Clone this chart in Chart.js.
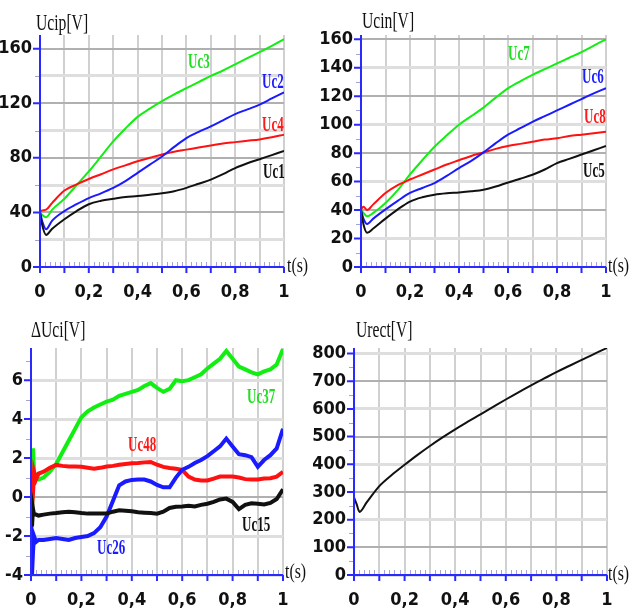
<!DOCTYPE html>
<html><head><meta charset="utf-8">
<script src="https://cdn.jsdelivr.net/npm/chart.js@4.4.1/dist/chart.umd.min.js"></script>
<style>
html,body{margin:0;padding:0;background:#fff;width:630px;height:610px;overflow:hidden;position:relative;}
canvas{position:absolute;}
.t{position:absolute;font-family:'Liberation Serif','DejaVu Serif',serif;white-space:nowrap;transform-origin:0 0;line-height:1;color:#111;}
.ttl{font-size:23px;transform:scaleX(0.68);}
.ax{font-size:22px;transform:scaleX(0.72);}
.lb{font-size:20px;font-weight:bold;transform:scaleX(0.65);}
</style></head><body>
<canvas id="c1" width="315" height="300" style="left:0;top:0"></canvas>
<canvas id="c2" width="315" height="300" style="left:315px;top:0"></canvas>
<canvas id="c3" width="315" height="310" style="left:0;top:300px"></canvas>
<canvas id="c4" width="330" height="310" style="left:300px;top:300px"></canvas>

<div class="t ttl" style="left:36px;top:11px">Ucip[V]</div>
<div class="t ttl" style="left:362px;top:9px">Ucin[V]</div>
<div class="t ttl" style="left:31px;top:318px">ΔUci[V]</div>
<div class="t ttl" style="left:356px;top:318px">Urect[V]</div>

<div class="t ax" style="left:287px;top:254px">t(s)</div>
<div class="t ax" style="left:608px;top:254px">t(s)</div>
<div class="t ax" style="left:285px;top:560px">t(s)</div>
<div class="t ax" style="left:608px;top:562px">t(s)</div>

<div class="t lb" style="left:188px;top:51px;color:#22dd22">Uc3</div>
<div class="t lb" style="left:262px;top:71px;color:#1a1aff">Uc2</div>
<div class="t lb" style="left:262px;top:114px;color:#ff1a1a">Uc4</div>
<div class="t lb" style="left:263px;top:161px;color:#111">Uc1</div>

<div class="t lb" style="left:508px;top:43px;color:#22dd22">Uc7</div>
<div class="t lb" style="left:582px;top:66px;color:#1a1aff">Uc6</div>
<div class="t lb" style="left:584px;top:106px;color:#ff1a1a">Uc8</div>
<div class="t lb" style="left:583px;top:160px;color:#111">Uc5</div>

<div class="t lb" style="left:247px;top:386px;color:#22dd22">Uc37</div>
<div class="t lb" style="left:128px;top:434px;color:#ff1a1a">Uc48</div>
<div class="t lb" style="left:97px;top:537px;color:#1a1aff">Uc26</div>
<div class="t lb" style="left:242px;top:514px;color:#111">Uc15</div>

<script>
// ---------- data ----------
const tTop = [0, 0.01, 0.025, 0.05, 0.1, 0.15, 0.2, 0.25, 0.3, 0.35, 0.4, 0.45, 0.5, 0.55, 0.6, 0.65, 0.7, 0.75, 0.8, 0.85, 0.9, 0.95, 1];
const uc1 = [40, 30, 23.5, 28, 35, 41, 46, 48.5, 50, 51.3, 52, 53, 54, 55.5, 58, 61, 64, 68, 72.5, 76, 79, 82, 85];
const uc2 = [40, 33, 27.7, 34, 41, 46, 50.5, 54, 58, 63, 69, 75, 81, 88, 94.5, 99, 103, 107.5, 112, 115.5, 119, 123.5, 128];
const uc3 = [40, 38, 36.5, 42, 50, 60, 70, 81, 92, 101.5, 110, 116, 121.5, 126.5, 131, 135.5, 140, 144, 148.5, 153, 157.5, 162, 167];
const uc4 = [40.5, 41.5, 42, 47, 56, 60.5, 64.5, 68, 71.5, 74.5, 77.5, 80, 82.5, 84.5, 86, 87.5, 89, 90.5, 91.5, 92.5, 93.5, 95, 97];

const uc5 = [40, 30, 24, 27, 34, 40.5, 46, 49, 50.8, 51.8, 52.4, 53.2, 54.3, 56.5, 59.4, 62, 64.8, 68.5, 73, 76, 79, 82, 85];
const uc6 = [40, 34, 30.2, 34, 40.5, 46.5, 52, 55.5, 59, 64, 69.5, 74.5, 80.5, 87, 93, 97.5, 102, 106, 110, 114, 118, 122, 125.6];
const uc7 = [40, 38, 35.6, 38, 45, 54, 65, 75, 84.5, 92.5, 100, 106, 112, 119, 125.5, 130.5, 135, 139, 143, 147, 151, 155.5, 160];
const uc8 = [40.5, 42.3, 40, 44, 52, 57.5, 61.5, 65, 68.5, 72, 75, 78, 80.5, 83, 85, 86.5, 88, 89.5, 90.5, 92, 93, 94, 95];

const tDiff = [0, 0.004, 0.008, 0.012, 0.02, 0.03, 0.05, 0.075, 0.1, 0.125, 0.15, 0.175, 0.2, 0.225, 0.25, 0.275, 0.3, 0.325, 0.35, 0.375, 0.4, 0.425, 0.45, 0.475, 0.5, 0.525, 0.55, 0.575, 0.6, 0.625, 0.65, 0.675, 0.7, 0.725, 0.75, 0.775, 0.8, 0.825, 0.85, 0.875, 0.9, 0.925, 0.95, 0.975, 1];
const uc37 = [0, -1.2, 2.5, 1.3, 1.0, 0.9, 1.0, 1.3, 1.7, 2.3, 2.9, 3.5, 4.1, 4.4, 4.6, 4.75, 4.9, 5.0, 5.2, 5.3, 5.4, 5.5, 5.7, 5.85, 5.6, 5.4, 5.55, 6.0, 5.95, 6.0, 6.15, 6.3, 6.6, 6.85, 7.1, 7.5, 7.1, 6.7, 6.55, 6.4, 6.3, 6.45, 6.55, 6.8, 7.6];
const uc48 = [0, -0.5, 0.2, 1.3, 0.9, 1.2, 1.3, 1.5, 1.65, 1.6, 1.57, 1.57, 1.55, 1.5, 1.45, 1.5, 1.57, 1.6, 1.66, 1.7, 1.74, 1.75, 1.78, 1.8, 1.66, 1.55, 1.49, 1.45, 1.4, 1.05, 0.9, 0.85, 0.85, 0.95, 1.05, 1.05, 1.05, 1.0, 0.92, 0.9, 0.9, 0.95, 0.97, 1.05, 1.3];
const uc26 = [0, -4, -2.8, -2.0, -2.3, -2.2, -2.2, -2.15, -2.1, -2.15, -2.2, -2.1, -2.05, -2.0, -1.85, -1.55, -1.0, -0.2, 0.6, 0.8, 0.88, 0.9, 0.9, 0.8, 0.62, 0.5, 0.5, 1.0, 1.4, 1.55, 1.75, 1.9, 2.1, 2.35, 2.6, 3.0, 2.6, 2.2, 2.15, 2.05, 1.55, 1.9, 2.15, 2.5, 3.5];
const uc15 = [0, -1.5, -0.6, -0.9, -0.9, -0.95, -0.9, -0.85, -0.82, -0.78, -0.75, -0.78, -0.82, -0.85, -0.85, -0.85, -0.85, -0.75, -0.68, -0.7, -0.73, -0.78, -0.8, -0.82, -0.85, -0.75, -0.56, -0.5, -0.48, -0.45, -0.48, -0.4, -0.34, -0.25, -0.12, -0.08, -0.25, -0.62, -0.4, -0.32, -0.34, -0.38, -0.3, -0.1, 0.4];

const tRect = [0, 0.01, 0.022, 0.05, 0.1, 0.15, 0.2, 0.25, 0.3, 0.35, 0.4, 0.45, 0.5, 0.55, 0.6, 0.65, 0.7, 0.75, 0.8, 0.85, 0.9, 0.95, 1];
const urect = [280, 257, 228, 262, 321, 362, 398, 433, 466, 497, 526, 554, 580, 607, 634, 660, 685, 709, 733, 755, 777, 799, 820];

// ---------- styling ----------
const GREEN = '#11ee11', BLUE = '#1a1aff', RED = '#ff1111', BLACK = '#111111';
const AXIS = '#2a2aff';
const TICKFONT = { family: "'Liberation Sans Narrow','DejaVu Sans Condensed','Liberation Sans',sans-serif", size: 18, weight: 'bold' };

const pts = (ts, vs) => ts.map((t, i) => ({ x: t, y: vs[i] }));

const decor = {
  id: 'decor',
  afterDraw(chart, args, o) {
    const { ctx, chartArea: a, scales: { x, y } } = chart;
    ctx.save();
    ctx.strokeStyle = '#a4a4d4'; ctx.lineWidth = 1;
    ctx.beginPath();
    for (let i = 0; i <= 50; i++) {
      if (i % 5 === 0) continue;
      const px = Math.round(x.getPixelForValue(i / 50)) + 0.5;
      ctx.moveTo(px, a.bottom); ctx.lineTo(px, a.bottom - 5);
    }
    const majors = y.ticks.filter(t => t.label !== '').map(t => t.value);
    for (let v = y.min; v <= y.max + 1e-9; v += o.minor) {
      if (majors.some(m => Math.abs(m - v) < 1e-6)) continue;
      const py = Math.round(y.getPixelForValue(v)) + 0.5;
      ctx.moveTo(a.left, py); ctx.lineTo(a.left - 5, py);
    }
    ctx.stroke();
    ctx.strokeStyle = AXIS; ctx.lineWidth = 2;
    ctx.beginPath();
    for (let i = 0; i <= 10; i++) {
      const px = x.getPixelForValue(i / 10);
      ctx.moveTo(px, a.bottom); ctx.lineTo(px, a.bottom + 6);
    }
    for (const v of majors) {
      const py = y.getPixelForValue(v);
      ctx.moveTo(a.left, py); ctx.lineTo(a.left - 7, py);
    }
    ctx.stroke();
    ctx.beginPath();
    ctx.moveTo(a.left, a.top); ctx.lineTo(a.left, a.bottom); ctx.lineTo(a.right, a.bottom);
    ctx.stroke();
    ctx.restore();
  }
};

function xLabel(v) {
  const k = Math.round(v * 10);
  if (k % 2) return '';
  if (k === 0) return '0';
  if (k === 10) return '1';
  return '0,' + k;
}

function make(id, cfg) {
  return new Chart(document.getElementById(id), {
    type: 'line',
    data: { datasets: cfg.datasets.map(d => ({
      data: d.data, borderColor: d.color, borderWidth: cfg.lw, pointRadius: 0,
      fill: false, cubicInterpolationMode: cfg.smooth ? 'monotone' : 'default', tension: 0
    })) },
    options: {
      responsive: false, animation: false, devicePixelRatio: 1,
      layout: { padding: { top: cfg.top, right: cfg.right, left: 0, bottom: 0 } },
      plugins: { legend: { display: false }, tooltip: { enabled: false }, decor: { minor: cfg.minor } },
      scales: {
        x: {
          type: 'linear', min: 0, max: 1,
          afterFit: s => { s.height = cfg.xh; },
          border: { display: false },
          grid: { color: '#d0d0d0', lineWidth: 2, drawTicks: false },
          ticks: { stepSize: 0.1, autoSkip: false, maxRotation: 0, includeBounds: false, padding: 15, color: '#111', font: TICKFONT, callback: xLabel }
        },
        y: {
          type: 'linear', min: cfg.min, max: cfg.max,
          afterFit: s => { s.width = cfg.yw; },
          border: { display: false },
          grid: {
            drawTicks: false,
            color: c => cfg.dark(c.tick.value) ? '#b0b0b0' : '#dedede',
            lineWidth: c => cfg.dark(c.tick.value) ? 2 : 3
          },
          ticks: { stepSize: cfg.step, autoSkip: false, includeBounds: false, padding: 8, color: '#111', font: TICKFONT, callback: cfg.yLabel }
        }
      }
    },
    plugins: [decor]
  });
}

make('c1', {
  yw: 40, xh: 33, top: 35, right: 31, min: 0, max: 170, step: 20, minor: 20, lw: 2, smooth: true,
  dark: v => Math.round(v) % 40 === 0,
  yLabel: v => (Math.round(v) % 40 === 0 ? String(Math.round(v)) : ''),
  datasets: [
    { data: pts(tTop, uc1), color: BLACK },
    { data: pts(tTop, uc2), color: BLUE },
    { data: pts(tTop, uc4), color: RED },
    { data: pts(tTop, uc3), color: GREEN }
  ]
});

make('c2', {
  yw: 46, xh: 33, top: 35, right: 24, min: 0, max: 163, step: 20, minor: 10, lw: 2, smooth: true,
  dark: v => Math.round(v) % 40 === 0,
  yLabel: v => String(Math.round(v)),
  datasets: [
    { data: pts(tTop, uc5), color: BLACK },
    { data: pts(tTop, uc6), color: BLUE },
    { data: pts(tTop, uc8), color: RED },
    { data: pts(tTop, uc7), color: GREEN }
  ]
});

make('c3', {
  yw: 31, xh: 35, top: 48, right: 32, min: -4, max: 7.65, step: 2, minor: 1, lw: 4, smooth: false,
  dark: v => Math.round(v) === 0,
  yLabel: v => String(Math.round(v)),
  datasets: [
    { data: pts(tDiff, uc15), color: BLACK },
    { data: pts(tDiff, uc26), color: BLUE },
    { data: pts(tDiff, uc48), color: RED },
    { data: pts(tDiff, uc37), color: GREEN }
  ]
});

make('c4', {
  yw: 54, xh: 35, top: 48, right: 23, min: 0, max: 820, step: 100, minor: 50, lw: 2, smooth: true,
  dark: v => Math.round(v / 100) % 2 === 1,
  yLabel: v => String(Math.round(v)),
  datasets: [
    { data: pts(tRect, urect), color: BLACK }
  ]
});
</script>
</body></html>
